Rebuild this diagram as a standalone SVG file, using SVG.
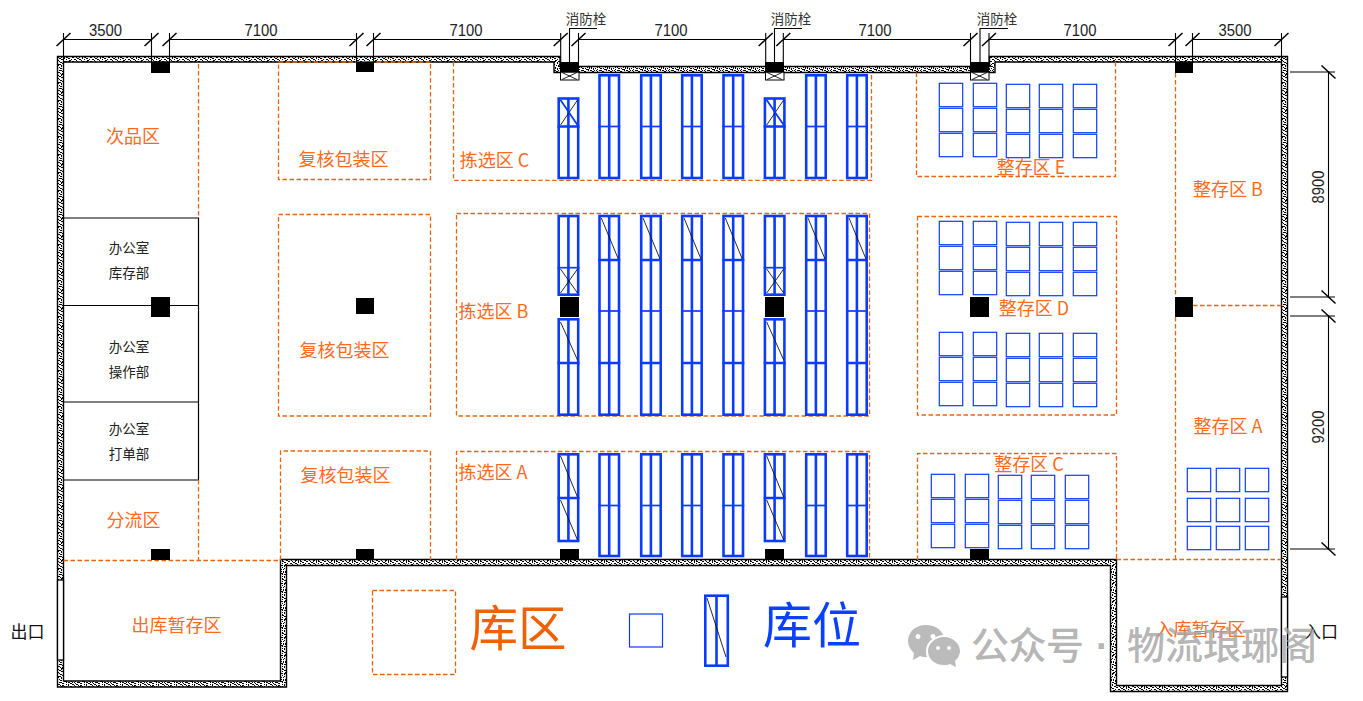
<svg xmlns="http://www.w3.org/2000/svg" xmlns:xlink="http://www.w3.org/1999/xlink" width="1363" height="701" viewBox="0 0 1363 701">
<style>
text{font-family:"Noto Sans CJK SC","Liberation Sans",sans-serif}
.z{font-size:18px;fill:#ff6a1c;text-anchor:middle}
.o{font-size:13.5px;fill:#222;text-anchor:middle}
.k{font-size:17px;fill:#111;text-anchor:middle}
.d{font-family:"Liberation Sans",sans-serif;font-size:16px;fill:#222;text-anchor:middle;font-weight:300}
.f{font-size:13.5px;fill:#333;text-anchor:middle}
.zone{fill:none;stroke:#e8650f;stroke-width:1.3;stroke-dasharray:4.5 2.5}
.dim{fill:none;stroke:#000;stroke-width:1.1}
.tick{fill:none;stroke:#000;stroke-width:1.5}
.p{fill:#000}
.hb{fill:#fff;stroke:#000;stroke-width:1}
.s{fill:#fff;stroke:#0a3cff;stroke-width:1.2}
.rb{fill:none;stroke:#0a3cff;stroke-width:2.6}
.rt{fill:none;stroke:#0a3cff;stroke-width:1.7}
.dg{fill:none;stroke:#111;stroke-width:.9}
.off{fill:none;stroke:#000;stroke-width:1.2}
</style>
<defs>
<path id="dots" fill="#000" d="M1 0h1v1h-1zM5 0h1v1h-1zM9 1h1v1h-1zM14 0h1v1h-1zM3 2h1v1h-1zM7 2h2v1h-2zM12 2h1v1h-1zM16 2h1v1h-1zM0 3h1v1h-1zM5 4h1v1h-1zM10 3h1v1h-1zM14 4h1v1h-1zM2 5h1v1h-1zM7 5h1v1h-1zM12 5h1v1h-1zM17 5h1v1h-1zM4 6h1v1h-1zM9 6h1v1h-1zM15 6h1v1h-1zM0 7h1v1h-1zM6 8h1v1h-1zM11 7h2v1h-2zM2 9h1v1h-1zM8 9h1v1h-1zM14 8h1v1h-1zM17 9h1v1h-1zM4 10h2v1h-2zM10 10h1v1h-1zM16 11h1v1h-1zM0 11h1v1h-1zM7 11h1v1h-1zM13 11h1v1h-1zM2 12h1v1h-1zM5 13h1v1h-1zM9 12h1v1h-1zM11 13h1v1h-1zM15 13h1v1h-1zM1 14h1v1h-1zM7 14h1v1h-1zM13 14h1v1h-1zM17 14h1v1h-1zM3 15h1v1h-1zM10 15h1v1h-1zM15 16h1v1h-1zM0 16h1v1h-1zM5 16h2v1h-2zM12 16h1v1h-1zM8 17h1v1h-1zM3 17h1v1h-1zM17 17h1v1h-1z"/>
<pattern id="st" width="18" height="18" patternUnits="userSpaceOnUse">
<rect width="18" height="18" fill="#fff"/>
<use href="#dots"/>
<use href="#dots" x="7" y="5"/>
<use href="#dots" x="-11" y="5"/>
<use href="#dots" x="7" y="-13"/>
<use href="#dots" x="-11" y="-13"/>
</pattern>
<path id="t" class="tick" d="M-7 6.5L7-6.5"/>
<path id="tv" class="tick" d="M-7-6.5L7 6.5"/>
<rect id="q" class="s" x="0" y="0" width="23.4" height="23.4"/>
<g id="q3"><use href="#q" y="0"/><use href="#q" y="25"/><use href="#q" y="50"/></g>
<g id="grid"><use href="#q3" x="0"/><use href="#q3" x="34"/><use href="#q3" x="67" y="1"/><use href="#q3" x="100" y="1"/><use href="#q3" x="134" y="1"/></g>
<g id="rC"><rect class="rb" x="1.2" y="75.3" width="19.5" height="102.7"/><path class="rb" d="M10.9 75.3V178"/><path class="rt" d="M0 126.500H22"/></g>
<g id="rC1"><rect class="rb" x="1.2" y="98.5" width="19.5" height="79.5"/><path class="rb" d="M10.9 98.5V178M0 126.5H22"/><path class="dg" d="M3 100L20 125M20 100L3 125"/><path class="rt" d="M3 100L20 125"/></g>
<g id="rB"><rect class="rb" x="1.2" y="216" width="19.5" height="198.7"/><path class="rb" d="M10.9 216V414.7M0 260H22M0 363H22"/><path class="rt" d="M0 311H22"/><path class="dg" d="M3 218L20 259"/></g>
<g id="rB1"><rect class="rb" x="1.2" y="216" width="19.5" height="78.7"/><rect class="rb" x="1.2" y="319.3" width="19.5" height="95.4"/><path class="rb" d="M10.9 216V294.7M10.9 319.3V414.7M0 363H22"/><path class="rt" d="M0 267.7H22"/><path class="dg" d="M3 269L20 293M20 269L3 293M3 322L20 360"/></g>
<g id="rA"><rect class="rb" x="1.2" y="454.3" width="19.5" height="101.7"/><path class="rb" d="M10.9 454.3V556"/><path class="rt" d="M0 505.5H22"/></g>
<g id="rA1"><rect class="rb" x="1.2" y="454.3" width="19.5" height="86.7"/><path class="rb" d="M10.9 454.3V541M0 498H22"/><path class="dg" d="M3 456L20 497M3 500L20 540"/></g>
</defs>
<rect width="1363" height="701" fill="#fff"/>

<g id="walls">
<path fill="url(#st)" fill-rule="evenodd" stroke="#000" stroke-width="1.4" d="M57.5 56.5H560V66.5H989.5V56.5H1287.5V691.5H1110.5V565.5H286.5V687H57.5ZM63.5 62V681H280.5V559.5H1116.5V685.5H1281.5V62H995V72.5H554V62Z"/>
<rect x="57.5" y="580" width="6" height="80" fill="#fff" stroke="#000" stroke-width="1.3"/>
<rect x="1281.5" y="597" width="6" height="80" fill="#fff" stroke="#000" stroke-width="1.3"/>
</g>

<g id="offices">
<path class="off" d="M63.5 218H198.5V480H63.5M63.5 305.5H198.5M63.5 402H198.5"/>
<text class="o" x="129" y="253">办公室</text><text class="o" x="129" y="278">库存部</text>
<text class="o" x="129" y="352">办公室</text><text class="o" x="129" y="377">操作部</text>
<text class="o" x="129" y="434">办公室</text><text class="o" x="129" y="459">打单部</text>
</g>

<g id="zones">
<path class="zone" d="M198.5 64V218M198.5 480V560M63.5 560.5H281"/>
<rect class="zone" x="278.5" y="62" width="152" height="117.5"/>
<rect class="zone" x="278.5" y="214.5" width="152" height="201.5"/>
<path class="zone" d="M280.5 560V451H430.5V560"/>
<path class="zone" d="M453.5 62V180.3H871.5V72.5"/>
<rect class="zone" x="456.5" y="213.5" width="413" height="202.5"/>
<path class="zone" d="M456.5 560V451.5H869.5V560"/>
<path class="zone" d="M916.5 72.5V176.5H1115.5V62"/>
<rect class="zone" x="917.5" y="216.5" width="199" height="198.5"/>
<path class="zone" d="M917.5 560V453.5H1116.5V559.5"/>
<path class="zone" d="M1175.5 73V297M1175.5 317V559.5M1193 305.5H1281.5M1116.5 559.5H1281.5"/>
<rect class="zone" x="372.5" y="590.5" width="83" height="84"/>
</g>

<g id="pillars">
<rect class="p" x="151" y="62" width="19" height="11"/>
<rect class="p" x="356" y="62" width="18" height="10"/>
<rect class="hb" x="560.5" y="72" width="18.5" height="8"/><path class="dg" d="M562 72.5L577 79.5M577 72.5L562 79.5"/>
<rect class="p" x="560" y="62" width="19" height="10.500"/>
<rect class="hb" x="765.500" y="72" width="18.5" height="8"/><path class="dg" d="M767 72.5L782 79.5M782 72.5L767 79.5"/>
<rect class="p" x="765" y="62" width="19" height="10.500"/>
<rect class="hb" x="970.500" y="72" width="18.5" height="8"/><path class="dg" d="M972 72.5L987 79.5M987 72.5L972 79.5"/>
<rect class="p" x="970" y="62" width="19" height="10.500"/>
<rect class="p" x="1175" y="62" width="18" height="11"/>
<rect class="p" x="151" y="297" width="19" height="20"/>
<rect class="p" x="356" y="298" width="18" height="16"/>
<rect class="p" x="560" y="297" width="19" height="20"/>
<rect class="p" x="765" y="297" width="19" height="20"/>
<rect class="p" x="970" y="297" width="19" height="20"/>
<rect class="p" x="1175" y="297" width="18" height="20"/>
<rect class="p" x="151" y="549" width="19" height="11"/>
<rect class="p" x="356" y="549" width="18" height="11"/>
<rect class="p" x="560" y="549" width="19" height="11"/>
<rect class="p" x="765" y="549" width="19" height="11"/>
<rect class="p" x="970" y="549" width="19" height="11"/>
</g>

<g id="racks-c"><use href="#rC1" x="557.5"/><use href="#rC" x="598.3"/><use href="#rC" x="640"/><use href="#rC" x="681"/><use href="#rC" x="722.300"/><use href="#rC1" x="763.700"/><use href="#rC" x="805"/><use href="#rC" x="846"/></g>
<g id="racks-b"><use href="#rB1" x="557.5"/><use href="#rB" x="598.3"/><use href="#rB" x="640"/><use href="#rB" x="681"/><use href="#rB" x="722.300"/><use href="#rB1" x="763.700"/><use href="#rB" x="805"/><use href="#rB" x="846"/></g>
<g id="racks-a"><use href="#rA1" x="557.5"/><use href="#rA" x="598.3"/><use href="#rA" x="640"/><use href="#rA" x="681"/><use href="#rA" x="722.300"/><use href="#rA1" x="763.700"/><use href="#rA" x="805"/><use href="#rA" x="846"/></g>

<g id="slots-e"><use href="#grid" x="939.3" y="83.3"/></g>
<g id="slots-d1"><use href="#grid" x="939.3" y="221.3"/></g>
<g id="slots-d2"><use href="#grid" x="939.3" y="332.3"/></g>
<g id="slots-c"><use href="#grid" x="931.3" y="474.3"/></g>
<g id="slots-a">
<use href="#q" x="1187.3" y="468.3"/><use href="#q" x="1216.3" y="468.3"/><use href="#q" x="1245.3" y="468.3"/>
<use href="#q" x="1187.3" y="498.3"/><use href="#q" x="1216.3" y="498.3"/><use href="#q" x="1245.3" y="498.3"/>
<use href="#q" x="1187.3" y="526.3"/><use href="#q" x="1216.3" y="526.3"/><use href="#q" x="1245.3" y="526.3"/>
</g>

<g id="connectors">
<path class="dim" d="M63.5 39.5H151.5M169.5 39.5H356.500M373.5 39.5H560.700M578.5 39.5H765.700M783.300 39.5H970.500M989 39.5H1175.500M1192.500 39.5H1281.500"/>
<path class="dim" d="M63.5 33V62M151.5 33V62M169.500 33V62M356.500 33V62M373.500 33V62M560.700 33V62M578.500 33V62M765.700 33V62M783.300 33V62M970.500 33V62M989 33V62M1175.500 33V62M1192.500 33V62M1281.500 33V62"/>
<path class="dim" d="M569.500 62V28.500H597M774.500 62V28.500H802M980 62V28.500H1008"/>
<g><use href="#t" x="63.500" y="39.500"/><use href="#t" x="151.500" y="39.500"/><use href="#t" x="169.500" y="39.500"/><use href="#t" x="356.500" y="39.500"/><use href="#t" x="373.500" y="39.500"/><use href="#t" x="560.700" y="39.500"/><use href="#t" x="578.500" y="39.500"/><use href="#t" x="765.700" y="39.500"/><use href="#t" x="783.300" y="39.500"/><use href="#t" x="970.500" y="39.500"/><use href="#t" x="989" y="39.500"/><use href="#t" x="1175.500" y="39.500"/><use href="#t" x="1192.500" y="39.500"/><use href="#t" x="1281.500" y="39.500"/></g>
<path class="dim" d="M1328.500 72V297M1328.500 316V549M1290 72H1335M1290 297H1335M1290 316H1335M1290 549H1335"/>
<g><use href="#tv" x="1328.500" y="72"/><use href="#tv" x="1328.500" y="297"/><use href="#tv" x="1328.500" y="316"/><use href="#tv" x="1328.500" y="549"/></g>
</g>

<g id="dim-labels">
<text class="d" x="105.500" y="36" textLength="33" lengthAdjust="spacingAndGlyphs">3500</text>
<text class="d" x="261" y="36" textLength="33" lengthAdjust="spacingAndGlyphs">7100</text>
<text class="d" x="466" y="36" textLength="33" lengthAdjust="spacingAndGlyphs">7100</text>
<text class="d" x="671" y="36" textLength="33" lengthAdjust="spacingAndGlyphs">7100</text>
<text class="d" x="875" y="36" textLength="33" lengthAdjust="spacingAndGlyphs">7100</text>
<text class="d" x="1080" y="36" textLength="33" lengthAdjust="spacingAndGlyphs">7100</text>
<text class="d" x="1235" y="36" textLength="33" lengthAdjust="spacingAndGlyphs">3500</text>
<text class="d" transform="translate(1324 187) rotate(-90)" textLength="33" lengthAdjust="spacingAndGlyphs">8900</text>
<text class="d" transform="translate(1324 427) rotate(-90)" textLength="33" lengthAdjust="spacingAndGlyphs">9200</text>
<text class="f" x="586" y="24">消防栓</text>
<text class="f" x="791" y="24">消防栓</text>
<text class="f" x="997" y="24">消防栓</text>
</g>

<g id="zone-labels">
<text class="z" x="133" y="143">次品区</text>
<text class="z" x="343.500" y="166">复核包装区</text>
<text class="z" x="344.500" y="357">复核包装区</text>
<text class="z" x="345.500" y="482">复核包装区</text>
<text class="z" x="494.500" y="167">拣选区 C</text>
<text class="z" x="493.500" y="318">拣选区 B</text>
<text class="z" x="493" y="479">拣选区 A</text>
<text class="z" x="133.500" y="527">分流区</text>
<text class="z" x="176.500" y="632">出库暂存区</text>
<text class="z" x="1031" y="174">整存区 E</text>
<text class="z" x="1034" y="315">整存区 D</text>
<text class="z" x="1029" y="471">整存区 C</text>
<text class="z" x="1228" y="196">整存区 B</text>
<text class="z" x="1228" y="433">整存区 A</text>
<text class="z" x="1200.500" y="636">入库暂存区</text>
<text class="k" x="27.500" y="638">出口</text>
<text class="k" x="1321" y="638">入口</text>
</g>

<g id="legend">
<text x="518" y="646" font-size="48.500" fill="#ee6205" text-anchor="middle">库区</text>
<rect class="s" x="629.500" y="614" width="33" height="33"/>
<rect class="rb" x="705.300" y="595.700" width="22.500" height="70"/>
<path class="rb" d="M716.500 595.700V665.700"/>
<path class="dg" d="M707 598L726 657"/>
<text x="812" y="643" font-size="49" fill="#0a40ff" text-anchor="middle">库位</text>
</g>

<g id="watermark" opacity=".9">
<path fill="#b4b4b4" d="M926 625C914 625 908 633 908 641C908 646 911 650 914 653L913 660L920 656C922 657 925 657 927 657C926 655 926 653 926 651C926 642 934 636 943 635C941 629 934 625 926 625Z"/>
<path fill="#b4b4b4" d="M944 637C935 637 928 644 928 651C928 659 935 665 944 665C946 665 948 665 950 664L956 667L955 661C958 658 960 655 960 651C960 644 953 637 944 637Z"/>
<path fill="#fff" d="M918 634a2.500 2.500 0 1 0 .01 0zM933 634a2.500 2.500 0 1 0 .01 0zM938 646a2 2 0 1 0 .01 0zM949 646a2 2 0 1 0 .01 0z"/>
<text font-size="38" font-weight="500" fill="#a4a4a4" fill-opacity=".9" y="658.500"><tspan x="971" textLength="113">公众号</tspan><tspan x="1096" style="font-family:'Liberation Sans',sans-serif" font-weight="700">·</tspan><tspan x="1127">物流琅琊阁</tspan></text>
</g>
</svg>
